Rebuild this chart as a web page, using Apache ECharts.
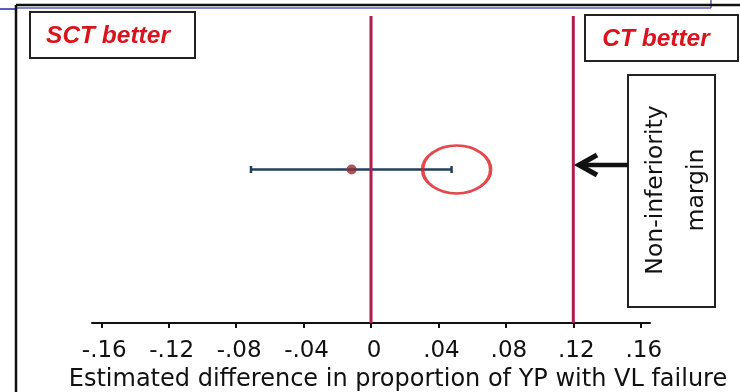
<!DOCTYPE html>
<html>
<head>
<meta charset="utf-8">
<script src="https://cdn.jsdelivr.net/npm/echarts@6/dist/echarts.min.js"></script>
<style>
  html, body { margin: 0; padding: 0; background: #fff; }
  #chart { width: 740px; height: 392px; }
</style>
</head>
<body>
<div id="chart"></div>
<script>
// 图中读出的数值
const tickValues = [-0.16, -0.12, -0.08, -0.04, 0, 0.04, 0.08, 0.12, 0.16]
const tickLabels = ['-.16', '-.12', '-.08', '-.04', '0', '.04', '.08', '.12', '.16']
const estimate = [-0.0115]
const ciBounds = [-0.0712, 0.0478]
const refLines = [0, 0.12]          // 无差异线 + 非劣效界值
const circleMark = [0.0508]         // 红圈标注的位置

const rowY = 0.5
// 原图文字略被横向拉宽，DejaVu 的字宽刚好接近
const FONT = '"DejaVu Sans", sans-serif'
const BOLD_FONT = '"Liberation Sans", Arial, sans-serif'

const chart = echarts.init(document.getElementById('chart'))

const refSeries = refLines.map(function (x) {
  return {
    type: 'line',
    data: [[x, 0], [x, 1]],
    symbol: 'none',
    silent: true,
    z: 5,
    lineStyle: { color: '#b01c4e', width: 3 }
  }
})

chart.setOption({
  animation: false,
  grid: { left: 92, right: 90, top: 16, bottom: 69, outerBoundsMode: 'none' },
  xAxis: {
    type: 'value',
    min: -0.1655,
    max: 0.1655,
    splitLine: { show: false },
    axisLine: { lineStyle: { color: '#111', width: 2 } },
    axisTick: { length: 5, lineStyle: { color: '#111', width: 2 }, customValues: tickValues },
    axisLabel: {
      customValues: tickValues,
      margin: 17,
      padding: [0, 0, 0, 6],
      color: '#111',
      fontFamily: FONT,
      fontSize: 23,
      formatter: function (v) {
        const i = tickValues.findIndex(function (t) { return Math.abs(t - v) < 1e-6 })
        return i >= 0 ? tickLabels[i] : ''
      }
    },
    name: 'Estimated difference in proportion of YP with VL failure',
    nameLocation: 'middle',
    nameGap: 42,
    nameTextStyle: { color: '#111', fontFamily: FONT, fontSize: 24, padding: [0, 0, 0, 54] }
  },
  yAxis: {
    type: 'value', min: 0, max: 1, show: false
  },
  series: [
    {
      type: 'custom',
      z: 3,
      data: [[ciBounds[0], ciBounds[1], rowY]],
      renderItem: function (params, api) {
        const a = api.coord([api.value(0), api.value(2)])
        const b = api.coord([api.value(1), api.value(2)])
        const st = { stroke: '#22405c', lineWidth: 2.5 }
        return {
          type: 'group',
          children: [
            { type: 'line', shape: { x1: a[0], y1: a[1], x2: b[0], y2: b[1] }, style: st },
            { type: 'line', shape: { x1: a[0], y1: a[1] - 3.5, x2: a[0], y2: a[1] + 3.5 }, style: st },
            { type: 'line', shape: { x1: b[0], y1: b[1] - 3.5, x2: b[0], y2: b[1] + 3.5 }, style: st }
          ]
        }
      }
    },
    {
      type: 'scatter',
      z: 6,
      data: estimate.map(function (v) { return [v, rowY] }),
      symbolSize: 10,
      itemStyle: { color: '#922b35' }
    },
    {
      type: 'scatter',
      z: 7,
      silent: true,
      data: circleMark.map(function (v) { return [v, rowY] }),
      symbol: 'circle',
      symbolSize: [68, 48],
      itemStyle: { color: 'rgba(0,0,0,0)', borderColor: '#dc1a23', borderWidth: 3 }
    }
  ].concat(refSeries),
  graphic: [
    // 截图留下的边框
    { type: 'line', shape: { x1: 0, y1: 9, x2: 16, y2: 9 }, style: { stroke: '#5b5bc0', lineWidth: 2 } },
    { type: 'line', shape: { x1: 16, y1: 8, x2: 711, y2: 8 }, style: { stroke: '#5b5bc0', lineWidth: 1.5 } },
    { type: 'line', shape: { x1: 711, y1: 0, x2: 711, y2: 8 }, style: { stroke: '#5b5bc0', lineWidth: 1.5 } },
    { type: 'line', shape: { x1: 16, y1: 5, x2: 740, y2: 5 }, style: { stroke: '#111', lineWidth: 2.5 } },
    { type: 'line', shape: { x1: 16, y1: 5, x2: 16, y2: 392 }, style: { stroke: '#111', lineWidth: 2.5 } },
    // SCT better
    { type: 'rect', shape: { x: 30, y: 12, width: 165, height: 46 }, style: { fill: '#fff', stroke: '#222', lineWidth: 2 }, z: 10 },
    {
      type: 'text', x: 108, y: 36, z: 11,
      style: { text: 'SCT better', fill: '#d9141e', font: 'italic bold 24.5px ' + BOLD_FONT, align: 'center', verticalAlign: 'middle' }
    },
    // CT better
    { type: 'rect', shape: { x: 585, y: 15, width: 153, height: 46 }, style: { fill: '#fff', stroke: '#222', lineWidth: 2 }, z: 10 },
    {
      type: 'text', x: 656, y: 39, z: 11,
      style: { text: 'CT better', fill: '#d9141e', font: 'italic bold 24.5px ' + BOLD_FONT, align: 'center', verticalAlign: 'middle' }
    },
    // Non-inferiority margin
    { type: 'rect', shape: { x: 628, y: 75, width: 87, height: 232 }, style: { fill: '#fff', stroke: '#222', lineWidth: 2 }, z: 10 },
    {
      type: 'text', x: 676, y: 190, rotation: Math.PI / 2, z: 11,
      style: {
        text: 'Non-inferiority\nmargin', fill: '#111', font: '23.5px ' + FONT,
        align: 'center', verticalAlign: 'middle', lineHeight: 41
      }
    },
    { type: 'line', shape: { x1: 580, y1: 165, x2: 628, y2: 165 }, style: { stroke: '#111', lineWidth: 4.5 }, z: 10 },
    { type: 'polyline', shape: { points: [[597, 155], [579, 165], [597, 175]] }, style: { stroke: '#111', lineWidth: 5, fill: null }, z: 10 }
  ]
})
</script>
</body>
</html>
